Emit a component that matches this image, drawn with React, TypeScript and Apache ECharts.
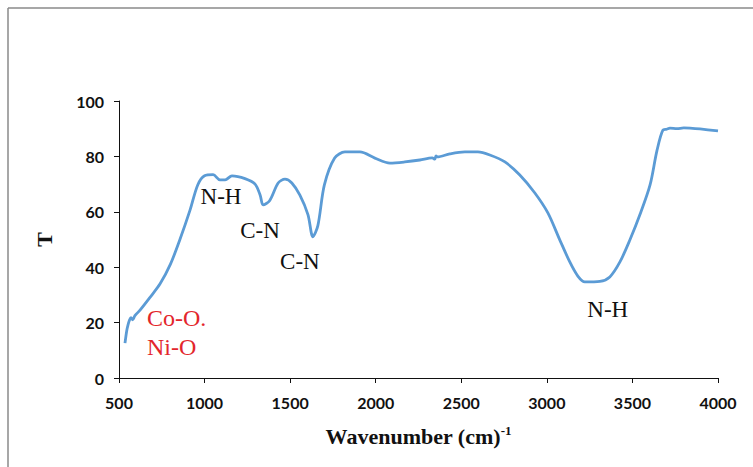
import React, { useEffect, useRef } from "react";
import * as echarts from "echarts";

const wavenumbers = [535, 545, 552, 562, 570, 580, 593, 623, 680, 740, 800, 856, 915, 960, 1000, 1050, 1090, 1120, 1160, 1236, 1295, 1325, 1342, 1380, 1430, 1470, 1510, 1557, 1604, 1633, 1662, 1700, 1760, 1820, 1908, 1995, 2083, 2170, 2258, 2330, 2345, 2352, 2360, 2433, 2521, 2597, 2667, 2755, 2842, 2930, 3006, 3076, 3134, 3181, 3222, 3310, 3368, 3427, 3485, 3544, 3603, 3643, 3678, 3700, 3719, 3760, 3800, 3836, 3895, 4000];
const transmittance = [12.6, 17, 19, 21, 21.8, 21, 22.5, 24.5, 29, 34, 41, 50, 60.6, 69.7, 73, 73.4, 71.5, 71.5, 73, 72, 70, 66, 62.5, 64, 70.4, 71.8, 70.4, 66, 59, 51, 55, 69.7, 79.4, 81.6, 81.6, 79.4, 77.6, 78, 78.7, 79.5, 79, 80.2, 79.8, 80.9, 81.6, 81.6, 80.5, 78, 73.3, 66.8, 59.6, 49.8, 41.9, 36.8, 34.7, 34.9, 36.5, 41.9, 49.8, 59, 69.7, 82, 89.5, 89.8, 90.2, 90.0, 90.3, 90.2, 89.9, 89.2];

const bandLabels = [
  { text: "N-H", x: 1096, y: 65.7 },
  { text: "C-N", x: 1324, y: 53.1 },
  { text: "C-N", x: 1557, y: 41.9 },
  { text: "N-H", x: 3356, y: 24.9 },
];
const oxideLabels = ["Co-O.", "Ni-O"];

export default function App() {
  const ref = useRef<HTMLDivElement>(null);
  useEffect(() => {
    if (!ref.current) return;
    const chart = echarts.init(ref.current, null, { renderer: "svg" });
    const seriesData = wavenumbers.map((w, i) => [w, transmittance[i]]);
    const serif = "'Liberation Serif', 'Times New Roman', serif";
    const sans = "Lato, 'Open Sans', sans-serif";
    chart.setOption({
      animation: false,
      backgroundColor: "#fff",
      grid: { left: 119, right: 35, top: 101, bottom: 89, containLabel: false },
      xAxis: {
        type: "value",
        min: 500,
        max: 4000,
        interval: 500,
        name: "Wavenumber (cm){sup|-1}",
        nameLocation: "middle",
        nameGap: 46,
        nameTextStyle: {
          fontFamily: serif,
          fontWeight: "bold",
          fontSize: 22,
          color: "#111",
          rich: {
            sup: { fontFamily: serif, fontWeight: "bold", fontSize: 13, color: "#111", padding: [0, 0, 12, 0] },
          },
        },
        axisLine: { lineStyle: { color: "#111", width: 1 } },
        axisTick: { show: true, inside: false, length: 5, lineStyle: { color: "#111" } },
        axisLabel: { fontFamily: sans, fontWeight: "bold", fontSize: 16, color: "#111", margin: 16, formatter: (v: number) => String(v) },
        splitLine: { show: false },
      },
      yAxis: {
        type: "value",
        min: 0,
        max: 100,
        interval: 20,
        name: "T",
        nameLocation: "middle",
        nameGap: 64,
        nameRotate: 90,
        nameTextStyle: { fontFamily: serif, fontWeight: "bold", fontSize: 22, color: "#111" },
        axisLine: { show: true, lineStyle: { color: "#111", width: 1 } },
        axisTick: { show: true, length: 5, lineStyle: { color: "#111" } },
        axisLabel: { fontFamily: sans, fontWeight: "bold", fontSize: 16, color: "#111", margin: 15, formatter: (v: number) => String(v) },
        splitLine: { show: false },
      },
      series: [
        {
          type: "line",
          data: seriesData,
          showSymbol: false,
          smooth: 0.3,
          lineStyle: { color: "#5b9bd5", width: 2.8 },
          markPoint: {
            symbol: "rect",
            symbolSize: 0.01,
            label: { show: true },
            data: bandLabels.map((b) => ({
              coord: [b.x, b.y],
              label: { formatter: b.text, fontFamily: serif, fontSize: 23, color: "#111" },
            })),
          },
        },
      ],
      graphic: [
        { type: "line", shape: { x1: 8, y1: 8, x2: 753, y2: 8 }, style: { stroke: "#8a8a8a", lineWidth: 1.5 } },
        { type: "line", shape: { x1: 8, y1: 8, x2: 8, y2: 467 }, style: { stroke: "#8a8a8a", lineWidth: 1.5 } },
        {
          type: "text",
          left: 147,
          top: 306,
          style: { text: oxideLabels[0], fontFamily: serif, fontSize: 24, fill: "#e3262c" },
        },
        {
          type: "text",
          left: 147,
          top: 335,
          style: { text: oxideLabels[1], fontFamily: serif, fontSize: 24, fill: "#e3262c" },
        },
      ],
    });
    return () => chart.dispose();
  }, []);
  return <div ref={ref} style={{ width: 753, height: 467, position: "absolute", left: 0, top: 0 }} />;
}
